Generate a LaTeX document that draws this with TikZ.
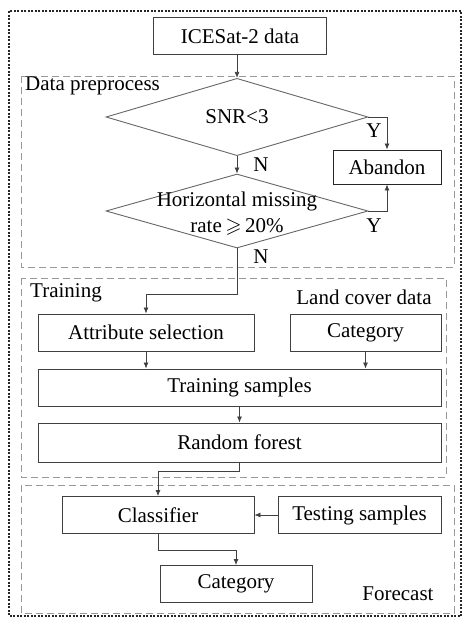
\documentclass[tikz,border=0pt]{standalone}
\usepackage{fontspec}
\usepackage{amssymb}
\setmainfont{Liberation Serif}
\usetikzlibrary{shapes, arrows.meta}

\begin{document}
\begin{tikzpicture}[x=1pt, y=-1pt,
    every node/.style={font=\fontsize{21}{26}\selectfont},
    box/.style={draw=black!75, line width=0.9pt, fill=white, minimum height=37pt, inner sep=0pt},
    decision/.style={diamond, draw=black!60, line width=0.9pt, minimum width=262pt, minimum height=74pt, inner sep=0pt},
    group/.style={draw=black!40, line width=1pt, dash pattern=on 7pt off 4pt},
    link/.style={draw=black!75, line width=0.8pt, -{Latex[length=6pt,width=5pt]}}]

\useasboundingbox (0,0) rectangle (464,619);

%% outer frame
\draw[black!85, line width=2pt, dash pattern=on 2pt off 1.5pt] (9,11) rectangle (461,616);

%% group frames
\draw[group] (21,76) rectangle (454,267);
\draw[group] (21,278) rectangle (446,477);
\draw[group] (21,485) rectangle (454,613);

%% group labels
\node[anchor=west, inner sep=0pt] (prelab) at (25,86) {Data preprocess};
\node[anchor=west, inner sep=0pt] (trainlab) at (30,293) {Training};
\node (landlab) at (364,297) {Land cover data};
\node (forelab) at (398,594) {Forecast};

% data preprocess
\node[box, minimum width=173pt] (ice) at (240,36) {ICESat-2 data};
\node[decision] (snr) at (237,117) {SNR<3};
\node[box, draw=black!85, minimum width=108pt, minimum height=34pt] (abandon) at (387,167) {Abandon};
\node[decision] (miss) at (237,211) {};
\node[align=center, inner sep=0pt] (misstext) at (237,214) {Horizontal missing\\rate\,$\geqslant$\,20\%};

\node (y1) at (374,131) {Y};
\node (y2) at (374,226) {Y};
\node (n1) at (261,165) {N};
\node (n2) at (261,257) {N};

% training
\node[box, minimum width=216pt] (attr) at (146,332.5) {Attribute selection};
\node[box, minimum width=151pt] (cat) at (365.5,332.5) {Category};
\node[box, minimum width=403pt] (samples) at (239.5,387.5) {Training samples};
\node[box, minimum width=403pt, minimum height=39pt] (forest) at (239.5,442.5) {Random forest};

% forecast
\node[box, minimum width=192pt] (clf) at (158,515) {Classifier};
\node[box, minimum width=163pt] (test) at (359.5,515) {Testing samples};
\node[box, minimum width=152pt] (cat2) at (236,584) {Category};

%% connectors
\coordinate (bend1) at (237,294);
\coordinate (bend2) at (239.5,471);
\coordinate (bend3) at (158,550);

\draw[link] (ice.south -| snr.north) -- (snr.north);
\draw[link] (snr.east) -| (abandon.north);
\draw[link] (miss.east) -| (abandon.south);
\draw[link] (snr.south) -- (miss.north);
\draw[link] (miss.south) -- (bend1) -| (attr.north);
\draw[link] (attr.south) -- (attr.south |- samples.north);
\draw[link] (cat.south) -- (cat.south |- samples.north);
\draw[link] (samples) -- (forest);
\draw[link] (forest.south) -- (bend2) -| (clf.north);
\draw[link] (test) -- (clf);
\draw[link] (clf.south) -- (bend3) -| (cat2.north);

\end{tikzpicture}
\end{document}
